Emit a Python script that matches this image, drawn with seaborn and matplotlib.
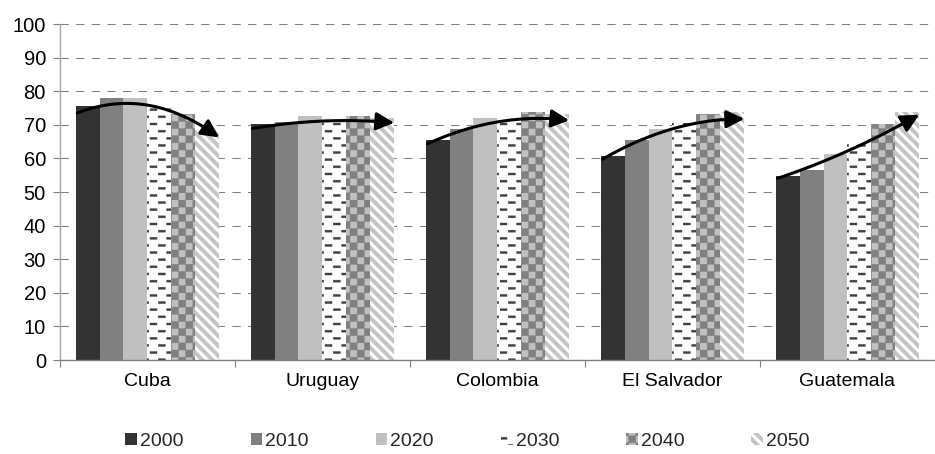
import warnings
import numpy as np
import pandas as pd
import matplotlib
matplotlib.use('Agg')
import matplotlib.pyplot as plt
from matplotlib import hatch as mhatch
from matplotlib.path import Path
from matplotlib.patches import Patch
import seaborn as sns

warnings.filterwarnings('ignore')

# data
countries = ['Cuba', 'Uruguay', 'Colombia', 'El Salvador', 'Guatemala']
years = ['2000', '2010', '2020', '2030', '2040', '2050']
v2000 = [75.6, 70.2, 65.5, 60.7, 54.8]
v2010 = [77.9, 70.8, 68.9, 65.5, 56.5]
v2020 = [78.0, 72.6, 71.9, 68.9, 61.3]
v2030 = [76.2, 71.9, 71.9, 70.6, 65.2]
v2040 = [73.2, 72.6, 73.7, 73.2, 70.2]
v2050 = [68.5, 71.9, 73.2, 73.7, 73.7]
yticks = list(range(0, 101, 10))


# custom fill patterns (excel style): staggered dashes, checker board, wide stripes
class DashHatch(mhatch.HatchPatternBase):
    def __init__(self, hatch, density):
        self.rows, self.cols = 14, 6
        self.num_vertices = self.rows * self.cols * 5 if 'd' in hatch else 0

    def set_vertices_and_codes(self, vertices, codes):
        dl, dh = 0.07, 0.02
        k = 0
        for r in range(self.rows):
            y = (r + 0.5) / self.rows
            shift = 0.5 / self.cols if r % 2 else 0.0
            for c in range(self.cols):
                x = c / self.cols + shift
                vertices[k:k + 5] = [(x, y), (x + dl, y), (x + dl, y + dh), (x, y + dh), (x, y)]
                codes[k:k + 5] = [Path.MOVETO, Path.LINETO, Path.LINETO, Path.LINETO, Path.CLOSEPOLY]
                k += 5


class CheckHatch(mhatch.HatchPatternBase):
    def __init__(self, hatch, density):
        self.n = 14
        self.num_vertices = (self.n * self.n // 2) * 5 if 'c' in hatch else 0

    def set_vertices_and_codes(self, vertices, codes):
        s = 1.0 / self.n
        k = 0
        for i in range(self.n):
            for j in range(self.n):
                if (i + j) % 2:
                    continue
                x, y = i * s, j * s
                vertices[k:k + 5] = [(x, y), (x + s, y), (x + s, y + s), (x, y + s), (x, y)]
                codes[k:k + 5] = [Path.MOVETO, Path.LINETO, Path.LINETO, Path.LINETO, Path.CLOSEPOLY]
                k += 5


class StripeHatch(mhatch.HatchPatternBase):
    def __init__(self, hatch, density):
        self.n = 10
        self.num_vertices = (2 * self.n + 2) * 5 if 'z' in hatch else 0

    def set_vertices_and_codes(self, vertices, codes):
        w = 0.5 / self.n
        k = 0
        for m in range(-1, 2 * self.n + 1):
            c = m / self.n
            vertices[k:k + 5] = [(c, 0), (c + w, 0), (c + w - 1, 1), (c - 1, 1), (c, 0)]
            codes[k:k + 5] = [Path.MOVETO, Path.LINETO, Path.LINETO, Path.LINETO, Path.CLOSEPOLY]
            k += 5


mhatch._hatch_types.extend([DashHatch, CheckHatch, StripeHatch])

# face colour, pattern colour, pattern
styles = {
    '2000': ('#333333', None, None),
    '2010': ('#808080', None, None),
    '2020': ('#c0c0c0', None, None),
    '2030': ('#ffffff', '#404040', 'd'),
    '2040': ('#c0c0c0', '#808080', 'c'),
    '2050': ('#ffffff', '#c4c4c4', 'z'),
}

series = [v2000, v2010, v2020, v2030, v2040, v2050]
df = pd.DataFrame({
    'country': countries * len(years),
    'year': np.repeat(years, len(countries)),
    'value': np.concatenate(series),
})

sns.set_style('white')
plt.rcParams['font.family'] = ['Liberation Sans', 'DejaVu Sans']
plt.rcParams['hatch.linewidth'] = 0.3

fig = plt.figure(figsize=(9.35, 4.54), dpi=100)
ax = fig.add_axes([0.064, 0.207, 0.936, 0.740])

sns.barplot(data=df, x='country', y='value', hue='year', hue_order=years,
            palette=[styles[y][0] for y in years], width=0.82, saturation=1,
            legend=False, ax=ax)

for yr, cont in zip(years, ax.containers):
    face, hc, h = styles[yr]
    for p in cont:
        p.set_facecolor(face)
        p.set_linewidth(0)
        if h:
            p.set_edgecolor(hc)
            p.set_hatch(h)
        else:
            p.set_edgecolor('none')

# trend arrows over each group, a damped fit to the bar tops
for k in range(len(countries)):
    bars = [cont[k] for cont in ax.containers]
    xc = np.array([b.get_x() + b.get_width() / 2 for b in bars])
    yv = np.array([s[k] for s in series])
    coef = np.polyfit(xc, yv, 2)
    xx = np.linspace(bars[0].get_x() + 0.01, bars[-1].get_x() + bars[-1].get_width(), 60)
    fit = np.polyval(coef, xx)
    yy = yv.mean() + 0.8 * (fit - yv.mean()) - 1.0
    ax.plot(xx[:-5], yy[:-5], color='black', lw=2.2, solid_capstyle='round', zorder=5)
    ax.annotate('', xy=(xx[-1], yy[-1]), xytext=(xx[-6], yy[-6]),
                arrowprops=dict(arrowstyle='-|>,head_length=0.9,head_width=0.45',
                                color='black', lw=2.2, shrinkA=0, shrinkB=0,
                                mutation_scale=12), zorder=6)

ax.set_xlim(-0.5, len(countries) - 0.5)
ax.set_ylim(0, 100)
ax.set_yticks(yticks)
ax.set_xlabel('')
ax.set_ylabel('')
ax.set_axisbelow(True)
ax.yaxis.grid(True, color='#808080', linewidth=0.75, linestyle=(0, (8, 7)))
ax.xaxis.grid(False)

ax.set_xticks(np.arange(-0.5, len(countries), 1.0), minor=True)
ax.tick_params(axis='x', which='major', length=0, pad=9, labelsize=14, colors='black')
ax.tick_params(axis='x', which='minor', length=5, width=0.8, color='#808080', direction='out', bottom=True)
ax.tick_params(axis='y', length=5, width=0.8, color='#808080', pad=5, labelsize=14.5,
               labelcolor='black', left=True, direction='out')

for s in ['top', 'right']:
    ax.spines[s].set_visible(False)
ax.spines['left'].set_color('#a8a8a8')
ax.spines['bottom'].set_color('#808080')
ax.spines['left'].set_linewidth(1.0)
ax.spines['bottom'].set_linewidth(1.0)

handles = [Patch(facecolor=styles[y][0], edgecolor=styles[y][1] or 'none',
                 hatch=styles[y][2], linewidth=0, label=y) for y in years]
fig.legend(handles=handles, loc='center', bbox_to_anchor=(0.5, 0.028), ncol=6,
           frameon=False, fontsize=14, handlelength=0.6, handleheight=0.6,
           handletextpad=0.15, columnspacing=3.45)

fig.savefig('out.png', dpi=100)
